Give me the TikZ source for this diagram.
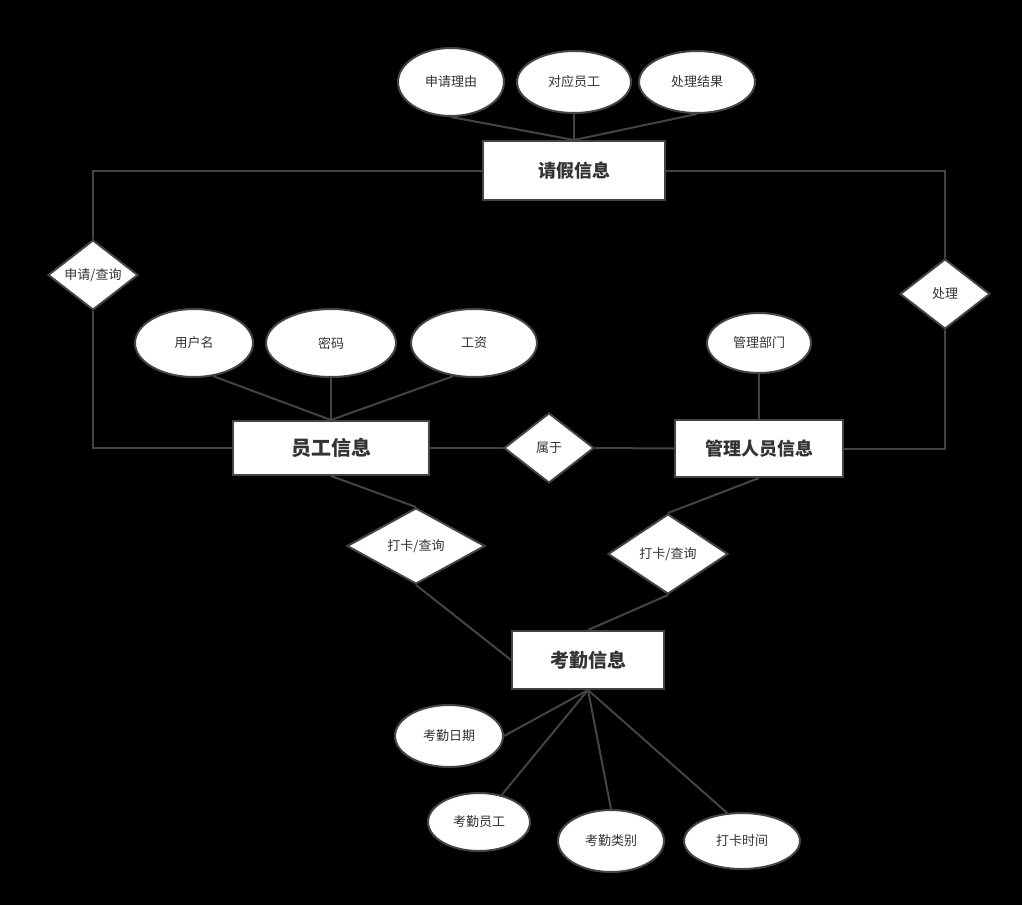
\documentclass[tikz,border=0pt]{standalone}
\usepackage{fontspec}
\newfontfamily\cjk{Noto Sans CJK SC}
\usetikzlibrary{shapes.geometric}
\definecolor{edgegray}{HTML}{444444}
\definecolor{textgray}{HTML}{333333}

\begin{document}
\begin{tikzpicture}[x=1pt,y=-1pt,line width=2pt,
    entity/.style={draw=edgegray,fill=white,rectangle,inner sep=0pt,text=textgray,font=\cjk\fontsize{18}{20}\selectfont\bfseries},
    attr/.style={draw=edgegray,fill=white,ellipse,inner sep=0pt,text=textgray,font=\cjk\fontsize{13}{15}\selectfont},
    rel/.style={draw=edgegray,fill=white,diamond,inner sep=0pt,aspect=1.3,text=textgray,font=\cjk\fontsize{13}{15}\selectfont},
    link/.style={draw=edgegray,line width=2pt}]
	   \fill[black] (0,0) rectangle (1022,905);
	   % entities
	   \node[entity,minimum width=182,minimum height=59] (leave) at (574,170.5) {请假信息};
	   \node[entity,minimum width=196,minimum height=54,font=\cjk\fontsize{20}{22}\selectfont\bfseries] (staff) at (331,448) {员工信息};
	   \node[entity,minimum width=168,minimum height=57] (admin) at (759,448.5) {管理人员信息};
	   \node[entity,minimum width=152,minimum height=58,font=\cjk\fontsize{19}{21}\selectfont\bfseries] (attend) at (588,660) {考勤信息};
	   % attributes
	   \node[attr,minimum width=106,minimum height=68] (reason) at (451,82) {申请理由};
	   \node[attr,minimum width=114,minimum height=62] (target) at (574,82) {对应员工};
	   \node[attr,minimum width=116,minimum height=62] (result) at (697,82) {处理结果};
	   \node[attr,minimum width=118,minimum height=68] (uname) at (194,343) {用户名};
	   \node[attr,minimum width=130,minimum height=68] (pwd) at (331,343) {密码};
	   \node[attr,minimum width=126,minimum height=68] (salary) at (474,343) {工资};
	   \node[attr,minimum width=104,minimum height=60] (dept) at (759,343) {管理部门};
	   \node[attr,minimum width=108,minimum height=62] (adate) at (449,736) {考勤日期};
	   \node[attr,minimum width=102,minimum height=58] (aemp) at (479,822) {考勤员工};
	   \node[attr,minimum width=106,minimum height=62] (atype) at (611,841) {考勤类别};
	   \node[attr,minimum width=116,minimum height=56] (ptime) at (742,841) {打卡时间};
	   % relations
	   \node[rel,minimum width=90,minimum height=70] (apply) at (93,275) {申请/查询};
	   \node[rel,minimum width=90,minimum height=70] (handle) at (945,294) {处理};
	   \node[rel,minimum width=90,minimum height=70] (belong) at (549,448) {属于};
	   \node[rel,minimum width=138,minimum height=76] (punchA) at (416,546) {打卡/查询};
	   \node[rel,minimum width=120,minimum height=80] (punchB) at (668,554) {打卡/查询};
	    % connectors
	    \draw[link] (reason.south) -- (leave.north);
	    \draw[link] (target.south) -- (leave.north);
	    \draw[link] (result.south) -- (leave.north);
	    \draw[link] (leave.west) -| (apply.north);
	    \draw[link] (apply.south) |- (staff.west);
	    \draw[link] (leave.east) -| (handle.north);
	    \draw[link] (handle.south) |- (admin.east);
	    \draw[link] (uname.-60) -- (staff.north);
	    \draw[link] (pwd.south) -- (staff.north);
	    \draw[link] (salary.-122) -- (staff.north);
	    \draw[link] (dept.south) -- (admin.north);
	    \draw[link] (staff.east) -- (belong.west);
	    \draw[link] (belong.east) -- (admin.west);
	    \draw[link] (staff.south) -- (punchA.north);
	    \draw[link] (punchA.south) -- (attend.west);
	    \draw[link] (admin.south) -- (punchB.north);
	    \draw[link] (punchB.south) -- (attend.north);
	    \draw[link] (attend.south) -- (adate.east);
	    \draw[link] (attend.south) -- (aemp.50);
	    \draw[link] (attend.south) -- (atype.north);
	    \draw[link] (attend.south) -- (ptime.118);
	\end{tikzpicture}
\end{document}
